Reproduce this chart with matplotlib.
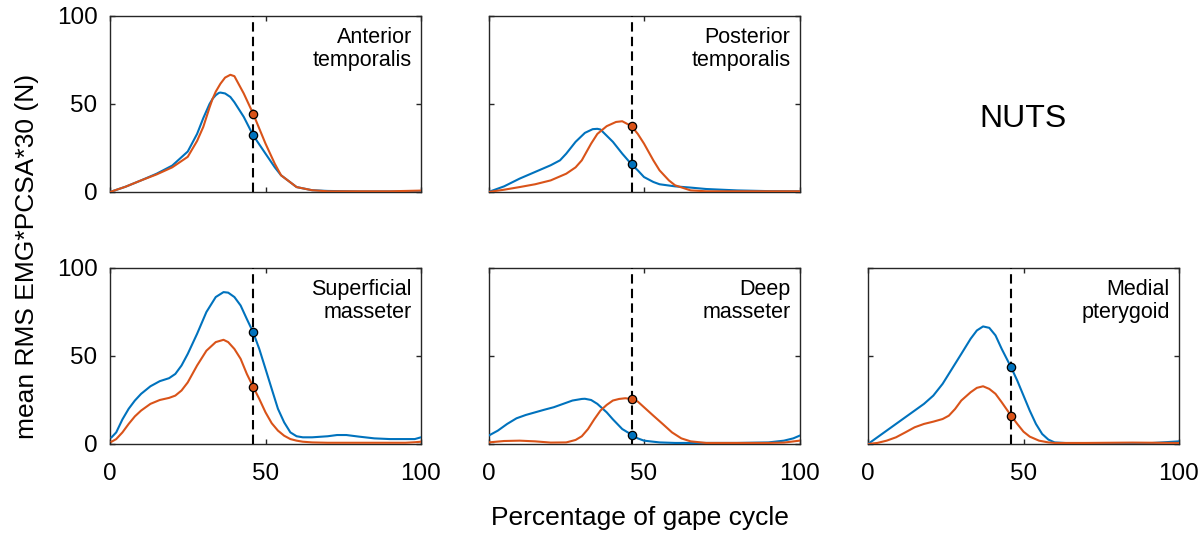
import matplotlib
matplotlib.use("Agg")
import matplotlib.pyplot as plt

plt.rcParams['font.family'] = ['Liberation Sans', 'DejaVu Sans']

BLUE = '#0072BD'
ORANGE = '#D95319'
DARK = '#262626'

# ---------------- data ----------------
marker_x = 46

at_x = [0, 5, 10, 15, 20, 25, 28, 30, 32, 33, 34, 35, 35.5, 37, 38.7, 40, 43, 46, 50, 53, 55, 60, 65, 70, 80, 90, 100]
at_blue = [0, 3, 6.6, 10.4, 15, 23, 33, 42, 50, 53, 55, 56.3, 56.5, 56, 54, 51, 42.7, 32.3, 21.8, 14, 9.5, 2.8, 1, 0.6, 0.3, 0.3, 0.3]
at_orange = [0, 3, 6.6, 10, 14, 20, 29, 37, 48, 53, 57, 60, 61.5, 65, 66.6, 65.8, 56, 44.6, 27.5, 16, 9.5, 2.8, 1, 0.4, 0.4, 0.4, 0.8]

pt_x_b = [0, 5, 10, 15, 20, 23, 25, 28, 31, 33.5, 35, 36, 38, 40, 43, 46, 48, 50, 53, 55, 60, 65, 70, 80, 90, 100]
pt_blue = [0, 3.2, 7.6, 11.4, 15.2, 18, 21.8, 28.5, 33.6, 35.7, 35.9, 35.5, 32, 28.5, 21.8, 15.7, 12.3, 8.5, 5.7, 4.4, 3.2, 2.5, 1.7, 0.9, 0.5, 0.4]
pt_x_o = [0, 5, 10, 15, 20, 25, 28, 30, 33, 35, 38, 41, 43, 46, 48, 50, 53, 55, 58, 60, 65, 70, 80, 90, 100]
pt_orange = [0, 1.3, 2.8, 4.4, 6.6, 10.4, 14, 18, 27.5, 33, 37.4, 39.8, 40.2, 37.4, 33, 27.5, 18, 12.3, 6.6, 3.8, 0.9, 0.4, 0.4, 0.4, 0.4]

sm_x = [0.5, 2, 4, 6, 8, 10, 13, 16, 19, 21, 23, 25, 28, 31, 34, 36.5, 38, 40, 42, 44, 46, 48, 50, 52, 54, 56, 58, 60, 62, 65, 70, 73, 76, 80, 85, 90, 95, 98, 100]
sm_blue = [3.8, 6.6, 14, 20, 24.7, 28.5, 32.8, 35.7, 37.4, 39.8, 44.6, 51.2, 62.6, 75, 83.5, 86.3, 86, 83.5, 78.7, 71, 63.6, 54, 42.7, 31.3, 20, 12.3, 6.6, 4.4, 3.8, 3.8, 4.4, 5.1, 5.1, 4.2, 3.2, 2.8, 2.8, 2.8, 3.8]
sm_orange = [1.3, 2.8, 6.6, 11.4, 15.7, 19, 22.8, 25, 26.2, 27.5, 30.4, 35, 44.6, 53, 57.9, 59.2, 57.9, 54, 48.4, 39.8, 32.6, 25.6, 18, 11.8, 7.6, 4.7, 2.8, 1.9, 1.3, 0.9, 0.7, 0.7, 0.7, 0.7, 0.7, 0.7, 0.7, 1.0, 1.3]

dm_x_b = [0, 3, 6, 9, 12, 15, 18, 21, 24, 27, 30, 31, 33, 35, 38, 40, 43, 46, 48, 50, 55, 60, 70, 80, 90, 95, 98, 100]
dm_blue = [4.7, 7.6, 11.4, 14.6, 16.5, 18, 19.5, 20.9, 22.8, 24.7, 25.6, 25.7, 25, 22.8, 18, 14, 8.5, 5.3, 3.2, 1.9, 0.9, 0.6, 0.6, 0.6, 0.9, 1.9, 3.2, 4.7]
dm_x_o = [0, 5, 10, 15, 20, 25, 28, 30, 32, 34, 36, 38, 40, 42, 44, 46, 48, 50, 53, 56, 59, 62, 65, 70, 80, 90, 95, 100]
dm_orange = [0.9, 1.7, 1.9, 1.5, 0.8, 0.9, 2.3, 4.4, 8.5, 14, 19, 22.2, 24.7, 25.6, 26, 25.6, 24.1, 20.9, 16.1, 11.4, 6.6, 3.2, 1.5, 0.6, 0.6, 0.6, 0.8, 1.9]

mp_x_b = [0, 3, 6, 9, 12, 15, 18, 21, 24, 27, 30, 33, 35, 37, 39, 41, 43, 46, 48, 50, 52, 54, 56, 58, 60, 65, 70, 80, 90, 100]
mp_blue = [0, 3.8, 7.6, 11.4, 15.2, 19, 22.8, 27.5, 34.2, 42.7, 51.2, 59.8, 64.5, 66.8, 66, 61.7, 54, 43.6, 36, 27.5, 19, 11.4, 5.7, 2.5, 0.9, 0.4, 0.4, 0.4, 0.4, 1.5]
mp_x_o = [0, 3, 6, 9, 12, 15, 18, 21, 24, 26, 28, 30, 33, 35, 37, 39, 41, 43, 46, 48, 50, 52, 55, 58, 60, 70, 85, 100]
mp_orange = [0, 0.6, 1.9, 3.8, 6.6, 9.5, 11.4, 12.7, 14.2, 16.1, 19.9, 24.7, 29.4, 31.9, 32.8, 31.3, 28.5, 23.7, 16.1, 11.4, 7, 4.2, 1.9, 0.9, 0.6, 0.6, 0.8, 0.6]

panel_titles = ['Anterior\ntemporalis', 'Posterior\ntemporalis',
                'Superficial\nmasseter', 'Deep\nmasseter', 'Medial\npterygoid']
marker_blue = [32.3, 15.7, 63.6, 5.3, 43.6]
marker_orange = [44.6, 37.4, 32.6, 25.6, 16.1]

series = [
    (at_x, at_blue, at_x, at_orange),
    (pt_x_b, pt_blue, pt_x_o, pt_orange),
    (sm_x, sm_blue, sm_x, sm_orange),
    (dm_x_b, dm_blue, dm_x_o, dm_orange),
    (mp_x_b, mp_blue, mp_x_o, mp_orange),
]

ticks = [0, 50, 100]
tick_labels = ['0', '50', '100']

# ---------------- layout ----------------
W, H = 1204, 535
fig = plt.figure(figsize=(W / 100, H / 100), dpi=100)

col_left = [110, 488.5, 868]
ax_w = 311
row_top = [16, 268]
ax_h = 176

# (row, col) for each panel
slots = [(0, 0), (0, 1), (1, 0), (1, 1), (1, 2)]

for i, (r, c) in enumerate(slots):
    l = col_left[c] / W
    b = (H - row_top[r] - ax_h) / H
    ax = fig.add_axes([l, b, ax_w / W, ax_h / H])
    xb, yb, xo, yo = series[i]
    ax.plot(xb, yb, color=BLUE, lw=1.5, zorder=3, solid_joinstyle='round')
    ax.plot(xo, yo, color=ORANGE, lw=1.5, zorder=3, solid_joinstyle='round')
    ax.axvline(marker_x, color='black', lw=1.5, ls=(0, (4.5, 2.5)), zorder=4)
    ax.plot([marker_x], [marker_blue[i]], 'o', ms=6, mfc=BLUE, mec='black', mew=0.9, zorder=5)
    ax.plot([marker_x], [marker_orange[i]], 'o', ms=6, mfc=ORANGE, mec='black', mew=0.9, zorder=5)
    ax.set_xlim(0, 100)
    ax.set_ylim(0, 100)
    ax.set_xticks(ticks)
    ax.set_yticks(ticks)
    ax.set_xticklabels(tick_labels)
    ax.set_yticklabels(tick_labels)
    for s in ax.spines.values():
        s.set_color(DARK)
        s.set_linewidth(1.0)
    ax.tick_params(direction='in', length=3.5, width=1.0, color=DARK,
                   top=True, right=True, labelsize=17.5, labelcolor='black')
    ax.tick_params(axis='y', pad=9)
    ax.tick_params(axis='x', pad=14)
    if r == 0:
        ax.tick_params(labelbottom=False)
    if c != 0:
        ax.tick_params(labelleft=False)
    ax.text(0.971, 0.935, panel_titles[i], transform=ax.transAxes,
            ha='right', va='top', fontsize=15.5, linespacing=1.1, color='black')

fig.text(1023 / W, 1 - 119 / H, 'NUTS', ha='center', va='center', fontsize=23)
fig.text(640 / W, 1 - 518 / H, 'Percentage of gape cycle', ha='center', va='center', fontsize=19)
fig.text(27 / W, 1 - 256 / H, 'mean RMS EMG*PCSA*30 (N)', ha='center', va='center',
         rotation=90, fontsize=19)

fig.savefig('out.png', dpi=100)
